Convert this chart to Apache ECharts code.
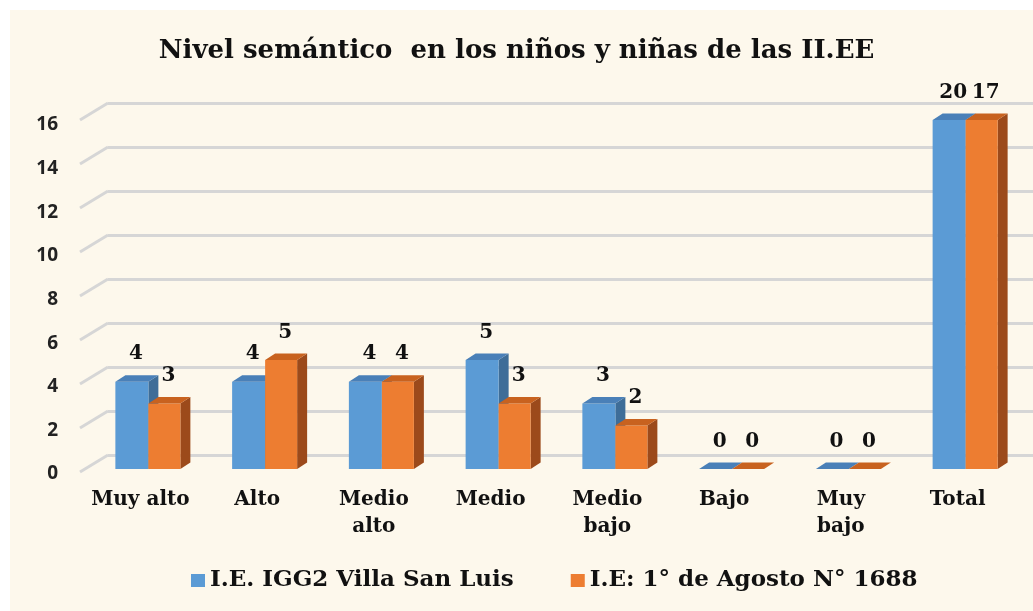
<!DOCTYPE html>
<html>
<head>
<meta charset="utf-8">
<script src="https://cdn.jsdelivr.net/npm/echarts@6/dist/echarts.min.js"></script>
<style>
  html, body { margin: 0; padding: 0; background: #fff; }
  #chart {
    width: 1033px;
    height: 611px;
    background: linear-gradient(#fdf8ec, #fdf8ec) 10px 10px / 1023px 601px no-repeat, #fff;
  }
</style>
</head>
<body>
<div id="chart"></div>
<script>
const categories = ['Muy alto', 'Alto', 'Medio\nalto', 'Medio', 'Medio\nbajo', 'Bajo', 'Muy\nbajo', 'Total'];
const villaSanLuis = [4, 4, 4, 5, 3, 0, 0, 20];
const agosto1688 = [3, 5, 4, 3, 2, 0, 0, 17];
const yTicks = [0, 2, 4, 6, 8, 10, 12, 14, 16];
const seriesNames = ['I.E. IGG2 Villa San Luis', 'I.E: 1° de Agosto N° 1688'];

const Y_MAX = 16;
const DEPTH_X = 10;
const DEPTH_Y = 6.5;
const SERIF = '"DejaVu Serif", "Liberation Serif", serif';

// front, side, top colours for each series
const palette = [
  { front: '#5b9bd5', side: '#3e6d98', top: '#4a80b8' },
  { front: '#ed7d31', side: '#9c4a1b', top: '#c8621f' },
];

function barRenderer(seriesIdx) {
  const col = palette[seriesIdx];
  const span = seriesIdx === 0 ? [-25, 8] : [8, 40];
  return function (params, api) {
    const idx = api.value(0);
    const raw = api.value(1);
    const v = Math.min(raw, Y_MAX);
    const base = api.coord([idx, 0]);
    const top = api.coord([idx, v])[1];
    const x0 = base[0] + span[0];
    const x1 = base[0] + span[1];
    const y0 = base[1];
    const children = [];
    if (y0 - top > 0) {
      children.push({
        type: 'polygon',
        shape: { points: [[x1, y0], [x1 + DEPTH_X, y0 - DEPTH_Y], [x1 + DEPTH_X, top - DEPTH_Y], [x1, top]] },
        style: { fill: col.side },
      });
      children.push({
        type: 'rect',
        shape: { x: x0, y: top, width: x1 - x0, height: y0 - top },
        style: { fill: col.front },
      });
    }
    children.push({
      type: 'polygon',
      shape: { points: [[x0, top], [x1, top], [x1 + DEPTH_X, top - DEPTH_Y], [x0 + DEPTH_X, top - DEPTH_Y]] },
      style: { fill: col.top },
    });
    children.push({
      type: 'text',
      style: {
        text: String(raw),
        x: (x0 + x1) / 2 + 4,
        y: top - DEPTH_Y - 11,
        align: 'center',
        verticalAlign: 'bottom',
        fill: '#111',
        font: 'bold 20px ' + SERIF,
      },
    });
    return { type: 'group', children };
  };
}

const chart = echarts.init(document.getElementById('chart'));

chart.setOption({
  title: {
    text: 'Nivel semántico  en los niños y niñas de las II.EE',
    left: 'center',
    top: 33,
    textStyle: { fontFamily: SERIF, fontWeight: 'bold', fontSize: 26, color: '#111' },
  },
  legend: {
    bottom: 19,
    left: 191,
    padding: 0,
    icon: 'rect',
    itemWidth: 14,
    itemHeight: 13,
    itemGap: 57,
    data: seriesNames.map((n, i) => ({ name: n, itemStyle: { color: palette[i].front } })),
    textStyle: { fontFamily: SERIF, fontWeight: 'bold', fontSize: 23, color: '#111' },
  },
  grid: [
    { left: 82, right: 17, top: 120, bottom: 142 },
    { left: 108, right: 0, top: 103, bottom: 156 },
  ],
  xAxis: [
    {
      type: 'category',
      gridIndex: 0,
      data: categories,
      axisLine: { show: false },
      axisTick: { show: false },
      axisLabel: {
        interval: 0,
        margin: 17,
        lineHeight: 27,
        fontFamily: SERIF,
        fontWeight: 'bold',
        fontSize: 20,
        color: '#111',
      },
    },
    { type: 'value', gridIndex: 1, min: 0, max: 1, show: false },
  ],
  yAxis: [
    {
      type: 'value',
      gridIndex: 0,
      min: 0,
      max: Y_MAX,
      interval: 2,
      axisLine: { show: false },
      axisTick: { show: false },
      splitLine: { show: false },
      axisLabel: {
        margin: 24,
        formatter: '{t|{value}}',
        rich: {
          t: {
            padding: [10, 0, 0, 0],
            fontFamily: '"Open Sans", "Liberation Sans", sans-serif',
            fontWeight: 'bold',
            fontSize: 19,
            color: '#222',
          },
        },
      },
    },
    {
      type: 'value',
      gridIndex: 1,
      min: 0,
      max: Y_MAX,
      interval: 2,
      axisLine: { show: false },
      axisTick: { show: false },
      axisLabel: { show: false },
      splitLine: { lineStyle: { color: '#d6d6d6', width: 3 } },
    },
  ],
  series: [
    {
      // slanted lines on the left wall
      type: 'custom',
      xAxisIndex: 1,
      yAxisIndex: 1,
      silent: true,
      data: yTicks.map(t => [0, t]),
      renderItem: (params, api) => {
        const p = api.coord([0, api.value(1)]);
        return {
          type: 'line',
          shape: { x1: p[0] - 28, y1: p[1] + 17, x2: p[0], y2: p[1] },
          style: { stroke: '#d6d6d6', lineWidth: 3 },
        };
      },
    },
    {
      name: seriesNames[0],
      type: 'custom',
      xAxisIndex: 0,
      yAxisIndex: 0,
      data: villaSanLuis.map((v, i) => [i, v]),
      renderItem: barRenderer(0),
    },
    {
      name: seriesNames[1],
      type: 'custom',
      xAxisIndex: 0,
      yAxisIndex: 0,
      data: agosto1688.map((v, i) => [i, v]),
      renderItem: barRenderer(1),
    },
  ],
});
</script>
</body>
</html>
